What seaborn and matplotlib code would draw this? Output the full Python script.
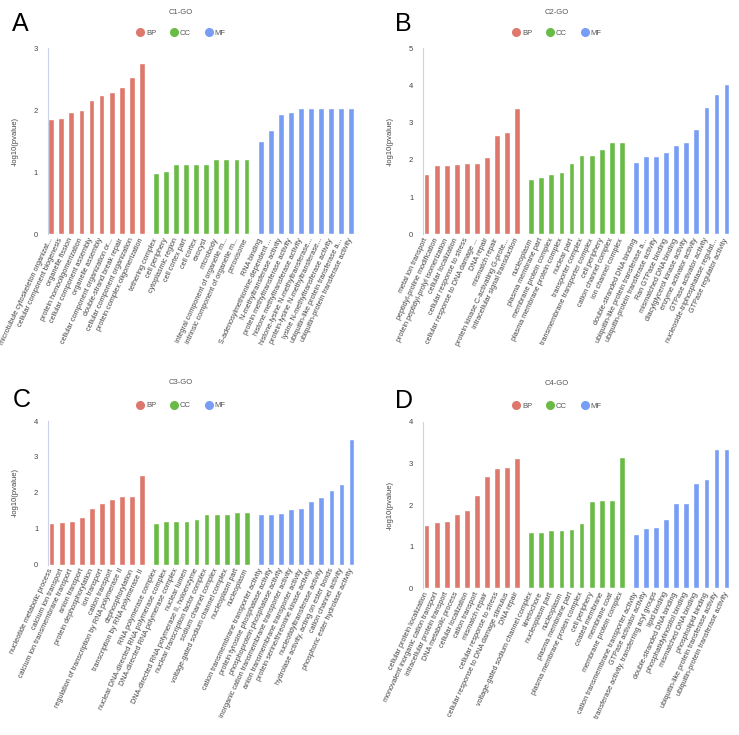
import matplotlib
matplotlib.use('Agg')
import matplotlib.pyplot as plt
from matplotlib.lines import Line2D
import numpy as np
import pandas as pd
import seaborn as sns

sns.set_style('white')
plt.rcParams['font.family'] = ['Liberation Sans', 'DejaVu Sans']

go_groups = ['BP'] * 10 + ['CC'] * 10 + ['MF'] * 10
group_names = ['BP', 'CC', 'MF']
colors = {'BP': '#de776c', 'CC': '#6abb46', 'MF': '#789df4'}

c1_terms = [
    'microtubule cytoskeleton organizat...', 'cellular component biogenesis',
    'organelle fission', 'protein homooligomerization',
    'cellular component assembly', 'organelle assembly',
    'cellular component organization or...', 'double-strand break repair',
    'cellular component organization', 'protein complex oligomerization',
    'tethering complex', 'cell periphery', 'cytoplasmic region',
    'cell cortex part', 'cell cortex', 'exocyst', 'microbody',
    'integral component of organelle m...', 'intrinsic component of organelle m...',
    'peroxisome',
    'RNA binding', 'S-adenosylmethionine-dependent ...',
    'N-methyltransferase activity', 'protein methyltransferase activity',
    'histone methyltransferase activity', 'histone-lysine N-methyltransferase...',
    'protein-lysine N-methyltransferase...', 'lysine N-methyltransferase activity',
    'ubiquitin-like protein transferase a...', 'ubiquitin-protein transferase activity',
]
c1_values = [1.86, 1.87, 1.97, 2.01, 2.16, 2.25, 2.30, 2.38, 2.53, 2.76,
             0.99, 1.02, 1.14, 1.14, 1.14, 1.14, 1.22, 1.22, 1.22, 1.22,
             1.51, 1.69, 1.94, 1.98, 2.03, 2.03, 2.03, 2.03, 2.04, 2.04]

c2_terms = [
    'metal ion transport', 'peptidyl-proline modification',
    'protein peptidyl-prolyl isomerization', 'cellular localization',
    'cellular response to stress', 'cellular response to DNA damage ...',
    'DNA repair', 'mismatch repair', 'protein kinase C-activating G-prote...',
    'intracellular signal transduction',
    'nucleoplasm', 'plasma membrane part', 'membrane protein complex',
    'plasma membrane protein complex', 'nuclear part', 'transporter complex',
    'transmembrane transporter complex', 'cell periphery',
    'cation channel complex', 'ion channel complex',
    'double-stranded DNA binding', 'ubiquitin-like protein transferase a...',
    'ubiquitin-protein transferase activity', 'Ran GTPase binding',
    'mismatched DNA binding', 'diacylglycerol kinase activity',
    'enzyme activator activity', 'GTPase activator activity',
    'nucleoside-triphosphatase regulat...', 'GTPase regulator activity',
]
c2_values = [1.62, 1.87, 1.87, 1.89, 1.92, 1.93, 2.08, 2.66, 2.74, 3.39,
             1.50, 1.53, 1.61, 1.68, 1.91, 2.12, 2.12, 2.28, 2.49, 2.49,
             1.94, 2.10, 2.10, 2.20, 2.41, 2.48, 2.82, 3.42, 3.77, 4.03]

c3_terms = [
    'nucleotide metabolic process', 'calcium ion transport',
    'calcium ion transmembrane transport', 'anion transport',
    'protein dephosphorylation', 'ion transport', 'cation transport',
    'regulation of transcription by RNA polymerase II', 'dephosphorylation',
    'transcription by RNA polymerase II',
    'RNA polymerase complex', 'nuclear DNA-directed RNA polymerase complex',
    'DNA-directed RNA polymerase complex', 'nuclear lumen',
    'DNA-directed RNA polymerase II, holoenzyme',
    'nuclear transcription factor complex', 'sodium channel complex',
    'voltage-gated sodium channel complex', 'nucleoplasm part', 'nucleoplasm',
    'cation transmembrane transporter activity',
    'protein tyrosine phosphatase activity', 'phosphoprotein phosphatase activity',
    'inorganic cation transmembrane transporter activity',
    'anion transmembrane transporter activity',
    'protein serine/threonine kinase activity', 'nucleotidyltransferase activity',
    'hydrolase activity, acting on ester bonds', 'cation channel activity',
    'phosphoric ester hydrolase activity',
]
c3_values = [1.15, 1.18, 1.22, 1.33, 1.58, 1.71, 1.83, 1.90, 1.92, 2.50,
             1.16, 1.23, 1.23, 1.23, 1.28, 1.40, 1.40, 1.40, 1.48, 1.48,
             1.41, 1.41, 1.44, 1.55, 1.57, 1.76, 1.88, 2.08, 2.26, 3.49]

c4_terms = [
    'cellular protein localization', 'monovalent inorganic cation transport',
    'intracellular protein transport', 'DNA metabolic process',
    'cellular localization', 'cation transport', 'mismatch repair',
    'cellular response to stress', 'cellular response to DNA damage stimulus',
    'DNA repair',
    'voltage-gated sodium channel complex', 'kinetochore', 'nucleoplasm part',
    'nucleoplasm', 'plasma membrane part', 'plasma membrane protein complex',
    'cell periphery', 'coated membrane', 'membrane coat',
    'membrane protein complex',
    'cation transmembrane transporter activity', 'GTPase activator activity',
    'transferase activity, transferring acyl groups', 'lipid binding',
    'double-stranded DNA binding', 'phosphatidylinositol binding',
    'mismatched DNA binding', 'phospholipid binding',
    'ubiquitin-like protein transferase activity',
    'ubiquitin-protein transferase activity',
]
c4_values = [1.51, 1.59, 1.61, 1.79, 1.88, 2.23, 2.69, 2.89, 2.92, 3.14,
             1.36, 1.36, 1.39, 1.39, 1.42, 1.56, 2.10, 2.12, 2.12, 3.15,
             1.30, 1.44, 1.48, 1.66, 2.04, 2.06, 2.52, 2.63, 3.35, 3.35]

W, H = 739, 735
# letter, title, terms, values, ymax, axes (px: left, y of 0, y of top),
# panel center x, title y, legend y, letter position
panels = [
    ('A', 'C1-GO', c1_terms, c1_values, 3, (47.7, 234.3, 48.3), 181, 12, 33.5, (20.5, 24)),
    ('B', 'C2-GO', c2_terms, c2_values, 5, (423, 234.3, 48.3), 557, 12, 33.5, (403.5, 24)),
    ('C', 'C3-GO', c3_terms, c3_values, 4, (48, 564.7, 421), 181, 383, 405.7, (21.5, 400)),
    ('D', 'C4-GO', c4_terms, c4_values, 4, (423, 588.3, 421.7), 557, 383.3, 406, (404, 400.5)),
]

fig = plt.figure(figsize=(W / 100, H / 100), dpi=100)
bar_w = 0.58

for letter, title, terms, values, ymax, (lx, y0, y1), cx, ty, ly, (tx, tyl) in panels:
    ax = fig.add_axes([lx / W, 1 - y0 / H, 308.5 / W, (y0 - y1) / H])
    gidx = np.array([group_names.index(g) for g in go_groups])
    pos = np.arange(len(terms)) + gidx * 0.4
    df = pd.DataFrame({'pos': pos, 'value': values, 'group': go_groups})
    sns.barplot(data=df, x='pos', y='value', hue='group', palette=colors,
                native_scale=True, dodge=False, width=bar_w, saturation=1,
                errorbar=None, legend=False, ax=ax)
    ax.set_xlim(pos[0] - bar_w / 2 - 0.06, pos[-1] + bar_w / 2 + 0.2)
    ax.set_ylim(0, ymax)
    ax.set_xticks(pos)
    ax.set_xticklabels(terms, rotation=65, ha='right', va='center',
                       rotation_mode='anchor', fontsize=5.2, color='#444')
    ax.set_yticks(range(0, ymax + 1))
    ax.tick_params(axis='y', length=0, labelsize=5.5, colors='#444', pad=7)
    ax.tick_params(axis='x', length=0, pad=3)
    ax.set_xlabel('')
    ax.set_ylabel('-log10(pvalue)', fontsize=5.5, color='#444')
    ax.yaxis.set_label_coords(-0.095, 0.5)
    for s in ['top', 'right', 'bottom']:
        ax.spines[s].set_visible(False)
    ax.spines['left'].set_color('#c8d2e8')
    ax.spines['left'].set_linewidth(0.8)

    fig.text(cx / W, 1 - ty / H, title, ha='center', va='center',
             fontsize=5.5, color='#555')
    handles = [Line2D([], [], marker='o', linestyle='', markersize=5.5,
                      color=colors[g]) for g in group_names]
    fig.legend(handles, group_names, loc='center',
               bbox_to_anchor=(cx / W, 1 - ly / H), ncol=3, frameon=False,
               fontsize=5.5, labelcolor='#555', handletextpad=0.3,
               columnspacing=1.8, handlelength=1.0)
    fig.text(tx / W, 1 - tyl / H, letter, ha='center', va='center',
             fontsize=18, color='black')

fig.savefig('out.png', dpi=100)
plt.close(fig)
